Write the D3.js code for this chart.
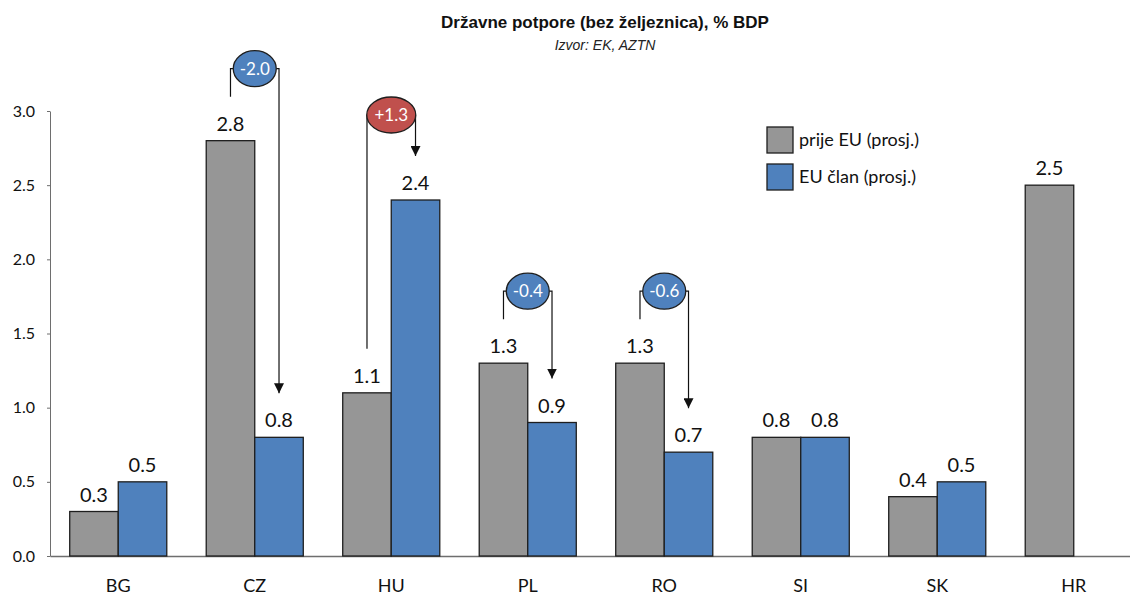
<!DOCTYPE html>
<html>
<head>
<meta charset="utf-8">
<title>Državne potpore</title>
<script src="https://d3js.org/d3.v7.min.js"></script>
<style>
body { margin: 0; background: #fff; }
.axis path, .axis line { stroke: #6e6e6e; }
.axis text { font-family: Lato, "Open Sans", sans-serif; fill: #111; }
.title { font-family: "Liberation Sans", Arial, sans-serif; font-weight: bold; font-size: 17px; fill: #111; }
.subtitle { font-family: "Liberation Sans", Arial, sans-serif; font-style: italic; font-size: 14px; fill: #222; }
.val { font-family: Lato, "Open Sans", sans-serif; font-size: 20px; fill: #111; }
.leg { font-family: Lato, "Open Sans", sans-serif; font-size: 18px; fill: #111; }
</style>
</head>
<body>
<div id="chart"></div>
<script>
// data
var categories = ["BG", "CZ", "HU", "PL", "RO", "SI", "SK", "HR"];
var prijeEU = [0.3, 2.8, 1.1, 1.3, 1.3, 0.8, 0.4, 2.5];
var euClan = [0.5, 0.8, 2.4, 0.9, 0.7, 0.8, 0.5, null];
var seriesNames = ["prije EU (prosj.)", "EU član (prosj.)"];
var seriesColors = ["#969696", "#4f81bd"];
var yTicks = [0, 0.5, 1.0, 1.5, 2.0, 2.5, 3.0];
var changeCats = ["CZ", "HU", "PL", "RO"];
var changeLabels = ["-2.0", "+1.3", "-0.4", "-0.6"];

var width = 1130, height = 597;

var svg = d3.select("#chart").append("svg")
    .attr("width", width)
    .attr("height", height);

// scales
var x = d3.scaleBand()
    .domain(categories)
    .range([50, 1142])
    .paddingInner(0.289)
    .paddingOuter(0.1445);

var xs = d3.scaleBand()
    .domain([0, 1])
    .range([0, x.bandwidth()]);

var y = d3.scaleLinear()
    .domain([0, 3])
    .range([556, 111]);

// title
svg.append("text").attr("class", "title")
    .attr("x", 605).attr("y", 28)
    .attr("text-anchor", "middle")
    .text("Državne potpore (bez željeznica), % BDP");
svg.append("text").attr("class", "subtitle")
    .attr("x", 605).attr("y", 50)
    .attr("text-anchor", "middle")
    .text("Izvor: EK, AZTN");

// y axis
var yAxis = svg.append("g")
    .attr("class", "axis")
    .attr("transform", "translate(50,0)")
    .call(d3.axisLeft(y).tickValues(yTicks).tickFormat(d3.format(".1f")).tickSize(3).tickSizeOuter(0));
yAxis.selectAll("text").style("font-size", "16px").attr("x", -15);

// x axis
var xAxis = svg.append("g")
    .attr("class", "axis")
    .attr("transform", "translate(0,556)")
    .call(d3.axisBottom(x).tickSize(0).tickSizeOuter(0));
xAxis.select(".domain").attr("stroke-width", 1.5);
xAxis.selectAll("text").style("font-size", "18px").attr("dy", "0").attr("y", 36);

// bars
var rows = categories.map(function(c, i) {
  return { cat: c, vals: [prijeEU[i], euClan[i]] };
});

var groups = svg.selectAll(".grp")
    .data(rows)
  .enter().append("g")
    .attr("class", "grp")
    .attr("transform", function(d) { return "translate(" + x(d.cat) + ",0)"; });

var cells = groups.selectAll(".cell")
    .data(function(d) {
      return d.vals.map(function(v, k) { return { k: k, v: v }; })
        .filter(function(e) { return e.v !== null; });
    })
  .enter();

cells.append("rect")
    .attr("x", function(d) { return xs(d.k); })
    .attr("y", function(d) { return y(d.v); })
    .attr("width", xs.bandwidth())
    .attr("height", function(d) { return y(0) - y(d.v); })
    .attr("fill", function(d) { return seriesColors[d.k]; })
    .attr("stroke", "#1e1e1e")
    .attr("stroke-width", 1.3);

cells.append("text")
    .attr("class", "val")
    .attr("x", function(d) { return xs(d.k) + xs.bandwidth() / 2; })
    .attr("y", function(d) { return y(d.v) - 10; })
    .attr("text-anchor", "middle")
    .text(function(d) { return d3.format(".1f")(d.v); });

// change annotations
svg.append("defs").append("marker")
    .attr("id", "arr")
    .attr("viewBox", "0 0 10 10")
    .attr("refX", 10).attr("refY", 5)
    .attr("markerWidth", 10).attr("markerHeight", 10)
    .attr("markerUnits", "userSpaceOnUse")
    .attr("orient", "auto")
  .append("path")
    .attr("d", "M0,0 L10,5 L0,10 Z")
    .attr("fill", "#111");

changeCats.forEach(function(c, i) {
  var idx = categories.indexOf(c);
  var a = prijeEU[idx], b = euClan[idx];
  var up = b > a;
  var cx = x(c) + x.bandwidth() / 2;
  var gx = x(c) + xs(0) + xs.bandwidth() / 2;
  var bx = x(c) + xs(1) + xs.bandwidth() / 2;
  var ey = y(Math.max(a, b)) - (up ? 85 : 72);
  var rx = up ? 24.5 : 21.5, ry = 18;
  var g = svg.append("g");

  g.append("path")
      .attr("d", "M" + gx + "," + (y(a) - 44) + "V" + ey + "H" + (cx - rx))
      .attr("fill", "none").attr("stroke", "#111").attr("stroke-width", 1.2);
  g.append("path")
      .attr("d", "M" + (cx + rx) + "," + ey + "H" + bx + "V" + (y(b) - 44))
      .attr("fill", "none").attr("stroke", "#111").attr("stroke-width", 1.2)
      .attr("marker-end", "url(#arr)");

  g.append("ellipse")
      .attr("cx", cx).attr("cy", ey)
      .attr("rx", rx).attr("ry", ry)
      .attr("fill", up ? "#c0504d" : "#4f81bd")
      .attr("stroke", "#1e1e1e").attr("stroke-width", 1.3);
  g.append("text")
      .attr("x", cx).attr("y", ey)
      .attr("dy", "0.35em")
      .attr("text-anchor", "middle")
      .style("font-family", "Lato, 'Open Sans', sans-serif")
      .style("font-size", "17px")
      .attr("fill", "#fff")
      .text(changeLabels[i]);
});

// legend
var leg = svg.selectAll(".leg-item")
    .data(seriesNames)
  .enter().append("g")
    .attr("transform", function(d, i) { return "translate(767," + (127 + i * 37) + ")"; });
leg.append("rect")
    .attr("width", 26).attr("height", 26)
    .attr("fill", function(d, i) { return seriesColors[i]; })
    .attr("stroke", "#1e1e1e").attr("stroke-width", 1.3);
leg.append("text")
    .attr("class", "leg")
    .attr("x", 32).attr("y", 13)
    .attr("dy", "0.35em")
    .text(function(d) { return d; });
</script>
</body>
</html>
